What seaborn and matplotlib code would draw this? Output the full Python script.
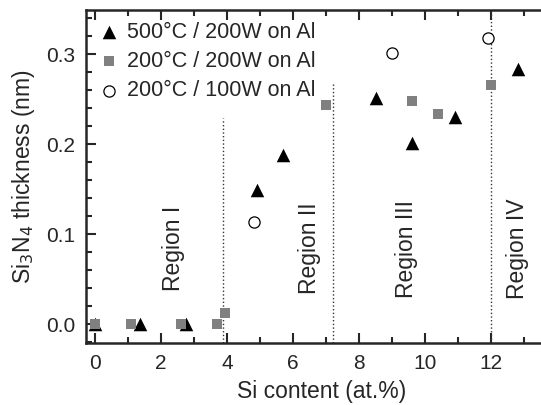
import numpy as np
import pandas as pd
import seaborn as sns
import matplotlib.pyplot as plt
from matplotlib.ticker import MultipleLocator

# Data
si_500_200 = [0.0, 1.36, 2.76, 4.9, 5.7, 8.5, 9.6, 10.9, 12.8]
th_500_200 = [0.0, 0.0, 0.0, 0.149, 0.188, 0.251, 0.201, 0.230, 0.284]

si_200_200 = [0.0, 1.09, 2.6, 3.69, 3.94, 6.99, 9.6, 10.4, 11.99]
th_200_200 = [0.0, 0.0, 0.0, 0.0, 0.012, 0.244, 0.248, 0.233, 0.266]

si_200_100 = [4.82, 9.0, 11.9]
th_200_100 = [0.114, 0.301, 0.318]

region_bounds = [3.87, 7.22, 12.0]
region_tops = [0.229, 0.268, 0.35]
region_names = ["Region I", "Region II", "Region III", "Region IV"]
region_x = [2.37, 6.5, 9.45, 12.8]
x_ticks = [0, 2, 4, 6, 8, 10, 12]

sns.set_style("ticks")
plt.rcParams['font.family'] = ['Liberation Sans', 'DejaVu Sans']

fig = plt.figure(figsize=(5.41, 4.05), dpi=100)
ax = fig.add_axes([0.159, 0.153, 1.03 - 0.159, 0.975 - 0.153])

df1 = pd.DataFrame({'si': si_500_200, 'th': th_500_200})
df2 = pd.DataFrame({'si': si_200_200, 'th': th_200_200})
df3 = pd.DataFrame({'si': si_200_100, 'th': th_200_100})

sns.scatterplot(data=df1, x='si', y='th', marker='^', s=95, color='black',
                edgecolor='black', linewidth=0, label='500°C / 200W on Al', ax=ax, zorder=3)
sns.scatterplot(data=df2, x='si', y='th', marker='s', s=60, color='#808080',
                edgecolor='#808080', linewidth=0, label='200°C / 200W on Al', ax=ax, zorder=4)
sns.scatterplot(data=df3, x='si', y='th', marker='o', s=65, facecolor='white',
                edgecolor='black', linewidth=0.9, label='200°C / 100W on Al', ax=ax, zorder=5)

for xb, yt in zip(region_bounds, region_tops):
    ax.plot([xb, xb], [-0.021, yt], linestyle=':', color='#333333', linewidth=1.0, zorder=2)

for name, xr in zip(region_names, region_x):
    ax.text(xr, 0.084, name, rotation=90, ha='center', va='center', fontsize=16.5)

ax.set_xlim(-0.27, 14.0)
ax.set_ylim(-0.021, 0.349)
ax.set_xticks(x_ticks)
ax.xaxis.set_minor_locator(MultipleLocator(1))
ax.yaxis.set_major_locator(MultipleLocator(0.1))
ax.yaxis.set_minor_locator(MultipleLocator(0.02))
ax.yaxis.set_major_formatter(plt.FormatStrFormatter('%.1f'))
ax.tick_params(which='both', direction='in', top=True, right=True, labelsize=15, width=1.5)
ax.tick_params(which='major', length=7, pad=8)
ax.tick_params(which='minor', length=4)
for sp in ax.spines.values():
    sp.set_linewidth(1.8)

ax.set_xlabel('Si content (at.%)', fontsize=16.5, labelpad=5)
ax.set_ylabel('Si$_3$N$_4$ thickness (nm)', fontsize=16.5, labelpad=6)

ax.legend(loc='upper left', frameon=False, fontsize=15.5, handletextpad=0.35,
          labelspacing=0.38, borderaxespad=0.15, handlelength=1.0)

fig.savefig('out.png', dpi=100)
